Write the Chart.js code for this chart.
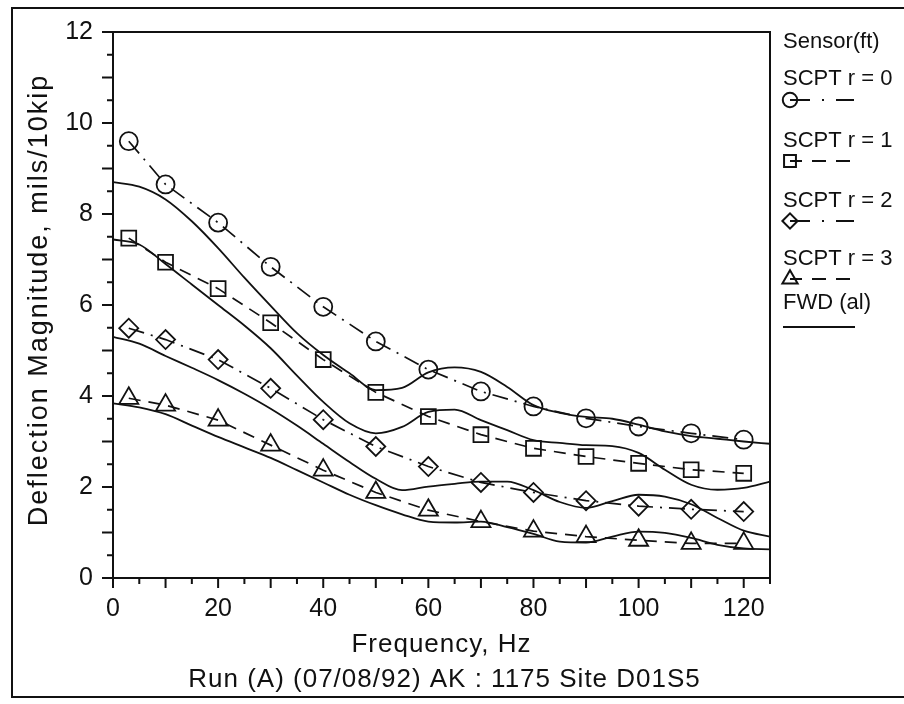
<!DOCTYPE html>
<html>
<head>
<meta charset="utf-8">
<script src="https://cdn.jsdelivr.net/npm/chart.js@4.4.1/dist/chart.umd.min.js"></script>
<style>
  body { margin: 0; background: #fff; }
  #wrap { width: 904px; height: 704px; }
</style>
</head>
<body>
<div id="wrap"><canvas id="chart" width="904" height="704"></canvas></div>
<script>
// SCPT measurements (markers)
const scptFreq = [3, 10, 20, 30, 40, 50, 60, 70, 80, 90, 100, 110, 120];
const scptR0 = [9.60, 8.65, 7.81, 6.84, 5.96, 5.20, 4.58, 4.10, 3.77, 3.51, 3.33, 3.18, 3.04];
const scptR1 = [7.47, 6.94, 6.36, 5.61, 4.80, 4.08, 3.55, 3.15, 2.85, 2.67, 2.52, 2.38, 2.30];
const scptR2 = [5.49, 5.24, 4.80, 4.17, 3.48, 2.89, 2.45, 2.10, 1.88, 1.70, 1.58, 1.51, 1.46];
const scptR3 = [3.95, 3.80, 3.47, 2.92, 2.37, 1.88, 1.49, 1.24, 1.03, 0.91, 0.83, 0.76, 0.76];

// FWD curves (solid lines)
const fwdFreq = [0, 5, 10, 15, 20, 25, 30, 35, 40, 45, 50, 55, 60, 65, 70, 75, 80, 85, 90, 95, 100, 105, 110, 115, 120, 125];
const fwdA = [8.70, 8.60, 8.32, 7.84, 7.25, 6.60, 5.98, 5.38, 4.90, 4.50, 4.13, 4.18, 4.52, 4.63, 4.53, 4.20, 3.80, 3.63, 3.54, 3.50, 3.37, 3.22, 3.12, 3.06, 3.00, 2.95];
const fwdB = [7.44, 7.33, 6.90, 6.45, 6.00, 5.55, 5.05, 4.45, 3.87, 3.40, 3.18, 3.32, 3.65, 3.70, 3.47, 3.25, 3.03, 2.97, 2.92, 2.90, 2.75, 2.38, 2.05, 1.94, 1.98, 2.12];
const fwdC = [5.30, 5.15, 4.88, 4.62, 4.35, 4.05, 3.72, 3.35, 2.95, 2.55, 2.18, 1.93, 2.01, 2.07, 2.12, 2.12, 1.93, 1.67, 1.54, 1.69, 1.83, 1.79, 1.62, 1.32, 1.04, 0.91];
const fwdD = [3.84, 3.75, 3.60, 3.35, 3.10, 2.87, 2.64, 2.37, 2.10, 1.83, 1.60, 1.40, 1.24, 1.22, 1.24, 1.12, 0.97, 0.80, 0.78, 0.91, 1.02, 0.99, 0.88, 0.73, 0.65, 0.63];

const xTickValues = [0, 20, 40, 60, 80, 100, 120];
const yTickValues = [0, 2, 4, 6, 8, 10, 12];

const legendLabels = ['SCPT r = 0', 'SCPT r = 1', 'SCPT r = 2', 'SCPT r = 3'];

const FONT = '"Liberation Sans", Arial, sans-serif';
const INK = '#111';

function pts(xs, ys) {
    return xs.map((x, i) => ({ x: x, y: ys[i] }));
}

const dashDot = [16, 7, 2, 7];
const dashed = [12, 8];

function fwdSet(ys) {
    return {
        data: pts(fwdFreq, ys),
        showLine: true,
        borderColor: INK,
        borderWidth: 1.8,
        pointRadius: 0,
        cubicInterpolationMode: 'monotone'
    };
}

function scptSet(ys, style, radius, dash) {
    return {
        data: pts(scptFreq, ys),
        showLine: true,
        borderColor: INK,
        borderWidth: 1.7,
        borderDash: dash,
        pointStyle: style,
        pointRadius: radius,
        pointBorderWidth: 1.8,
        pointBorderColor: INK,
        pointBackgroundColor: 'rgba(0,0,0,0)'
    };
}

const datasets = [
    fwdSet(fwdA), fwdSet(fwdB), fwdSet(fwdC), fwdSet(fwdD),
    scptSet(scptR0, 'circle', 9, dashDot),
    scptSet(scptR1, 'rect', 10.5, dashed),
    scptSet(scptR2, 'rectRot', 9.5, dashDot),
    scptSet(scptR3, 'triangle', 11, dashed)
];

// frame, minor ticks, titles and legend
const decorations = {
    id: 'decorations',
    afterDraw(chart) {
        const ctx = chart.ctx;
        const a = chart.chartArea;
        const xs = chart.scales.x, ys = chart.scales.y;
        ctx.save();
        ctx.strokeStyle = INK;
        ctx.fillStyle = INK;

        // outer frame
        ctx.lineWidth = 2;
        ctx.strokeRect(12, 8, 905, 689);

        // top and right side of the plot box
        ctx.beginPath();
        ctx.moveTo(a.left, a.top);
        ctx.lineTo(a.right, a.top);
        ctx.lineTo(a.right, a.bottom);
        ctx.stroke();

        // ticks
        ctx.lineWidth = 2;
        ctx.beginPath();
        for (let v = 0; v <= 125; v += 5) {
            const px = xs.getPixelForValue(v);
            const len = v % 10 === 0 ? 10 : 6;
            ctx.moveTo(px, a.bottom);
            ctx.lineTo(px, a.bottom + len);
        }
        for (let v = 0; v <= 12; v += 0.5) {
            const py = ys.getPixelForValue(v);
            const len = v % 1 === 0 ? 11 : 6;
            ctx.moveTo(a.left - len, py);
            ctx.lineTo(a.left, py);
        }
        ctx.stroke();

        // axis titles
        const cx = (a.left + a.right) / 2;
        ctx.textAlign = 'center';
        ctx.textBaseline = 'middle';
        ctx.font = '26px ' + FONT;
        ctx.letterSpacing = '1px';
        ctx.fillText('Frequency, Hz', cx, 645);
        ctx.fillText('Run (A) (07/08/92) AK : 1175 Site D01S5', cx + 3, 680);

        ctx.save();
        ctx.translate(40, 300);
        ctx.rotate(-Math.PI / 2);
        ctx.font = '27px ' + FONT;
        ctx.letterSpacing = '2px';
        ctx.fillText('Deflection Magnitude, mils/10kip', 0, 0);
        ctx.restore();

        // legend
        const lx = 783;
        ctx.textAlign = 'left';
        ctx.font = '22px ' + FONT;
        ctx.letterSpacing = '0px';
        ctx.fillText('Sensor(ft)', lx, 42);
        const textY = [79, 141, 201, 259];
        const markY = [100, 161, 221, 279];
        const legendSets = datasets.slice(4);
        legendSets.forEach((ds, i) => {
            ctx.fillStyle = INK;
            ctx.fillText(legendLabels[i], lx, textY[i]);
            const y = markY[i];
            const mx = lx + 7;
            ctx.lineWidth = 2;
            ctx.setLineDash([]);
            ctx.beginPath();
            if (ds.borderDash === dashDot) {
                ctx.moveTo(mx, y); ctx.lineTo(mx + 20, y);
                ctx.moveTo(mx + 32, y); ctx.lineTo(mx + 34, y);
                ctx.moveTo(mx + 46, y); ctx.lineTo(mx + 64, y);
            } else {
                ctx.moveTo(mx, y); ctx.lineTo(mx + 12, y);
                ctx.moveTo(mx + 22, y); ctx.lineTo(mx + 36, y);
                ctx.moveTo(mx + 46, y); ctx.lineTo(mx + 60, y);
            }
            ctx.stroke();
            ctx.fillStyle = 'rgba(0,0,0,0)';
            Chart.helpers.drawPoint(ctx, {
                pointStyle: ds.pointStyle,
                radius: ds.pointRadius * 0.8,
                borderWidth: 2,
                rotation: 0
            }, mx, y);
        });
        ctx.fillStyle = INK;
        ctx.fillText('FWD (al)', lx, 303);
        ctx.lineWidth = 2;
        ctx.beginPath();
        ctx.moveTo(lx, 327);
        ctx.lineTo(lx + 72, 327);
        ctx.stroke();

        ctx.restore();
    }
};

new Chart(document.getElementById('chart'), {
    type: 'scatter',
    data: { datasets: datasets },
    options: {
        responsive: false,
        animation: false,
        layout: { padding: { left: 0, top: 32, right: 134, bottom: 66 } },
        plugins: { legend: { display: false }, tooltip: { enabled: false } },
        scales: {
            x: {
                type: 'linear',
                min: 0,
                max: 125,
                afterFit: s => { s.height = 60; },
                afterBuildTicks: s => { s.ticks = xTickValues.map(v => ({ value: v })); },
                grid: { display: false },
                border: { display: true, color: INK, width: 2 },
                ticks: { color: INK, padding: 8, maxRotation: 0, font: { family: FONT, size: 25 } }
            },
            y: {
                type: 'linear',
                min: 0,
                max: 12,
                afterFit: s => { s.width = 113; },
                afterBuildTicks: s => { s.ticks = yTickValues.map(v => ({ value: v })); },
                grid: { display: false },
                border: { display: true, color: INK, width: 2 },
                ticks: { color: INK, padding: 12, font: { family: FONT, size: 25 } }
            }
        }
    },
    plugins: [decorations]
});
</script>
</body>
</html>
